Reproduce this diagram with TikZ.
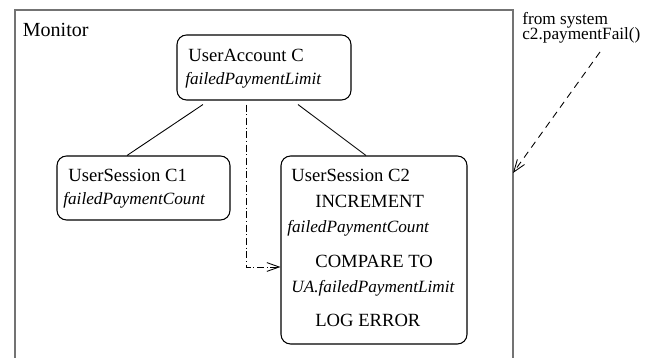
\documentclass[tikz,border=0pt]{standalone}
\usepackage{fontspec}
\setmainfont{Liberation Serif}
\usetikzlibrary{arrows.meta,calc}

\begin{document}
\begin{tikzpicture}[x=0.02cm,y=-0.02cm,
    box/.style={draw, line width=0.6pt, rounded corners=0.19cm, inner sep=0pt},
    txt/.style={anchor=base west, inner sep=0pt, font=\fontsize{10.6}{12}\selectfont},
    itxt/.style={txt, font=\fontsize{9.8}{12}\selectfont\itshape},
    note/.style={anchor=base west, inner sep=0pt, font=\fontsize{9.8}{11}\selectfont},
    barb/.style={-{Straight Barb[length=7pt,width=5pt]}, line width=0.5pt}]
    %% Background
    \useasboundingbox (0,0) rectangle (654,358);

    %% Monitor frame
    \draw[black!55, line width=0.8pt] (15,370) to (15,10) to (513,10) to (513,370);
    \node[txt, font=\fontsize{11.4}{13}\selectfont] (monitor) at (22.5,37) {Monitor};

    %% Boxes
    \node[box, minimum width=3.48cm, minimum height=1.3cm] (ua) at (264,67.5) {};
    \node[box, minimum width=3.46cm, minimum height=1.28cm] (c1) at (143.5,188) {};
    \node[box, minimum width=3.72cm, minimum height=3.76cm] (c2) at (374,250) {};

    %% Texts
    \node[txt] (uaname) at (188,62) {UserAccount C};
    \node[itxt] (ualimit) at (185,85) {failedPaymentLimit};
    \node[txt] (c1name) at (68,182) {UserSession C1};
    \node[itxt] (c1count) at (63,205) {failedPaymentCount};
    \node[txt] (c2name) at (291,182) {UserSession C2};
    \node[txt] (incr) at (315,208) {INCREMENT};
    \node[itxt] (c2count) at (287,233) {failedPaymentCount};
    \node[txt] (cmp) at (315,268) {COMPARE TO};
    \node[itxt] (ualim) at (291,293) {UA.failedPaymentLimit};
    \node[txt] (logerr) at (315,327) {LOG ERROR};

    %% Links
    \draw[line width=0.5pt] ($(ua.south)+(-61,4)$) to ($(c1.north)+(-16.5,0)$);
    \draw[line width=0.5pt] ($(ua.south)+(34,4)$) to ($(c2.north)+(-8,0)$);
    \draw[barb, dash pattern=on 4pt off 1.5pt on 0.6pt off 1.5pt]
      ($(ua.south)+(-18,4)$) |- ($(c2.west)+(0,17)$);

    %% Event from outside
    \node[note] (from) at (522,24.5) {from system};
    \node[note] (call) at (522,39.5) {c2.paymentFail()};
    \coordinate (src) at (600,52);
    \coordinate (hit) at (513,173);
    \draw[barb, dash pattern=on 4pt off 3pt] (src) to (hit);

\end{tikzpicture}
\end{document}
